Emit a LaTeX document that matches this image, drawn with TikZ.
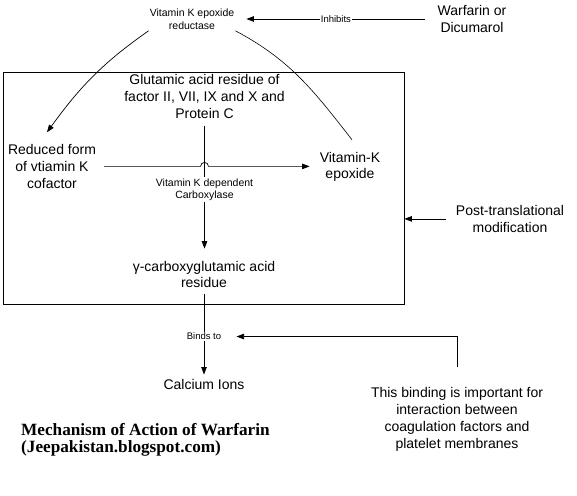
\documentclass[tikz,border=0pt]{standalone}
\usepackage{fontspec}
\setmainfont{Liberation Sans}
\newfontfamily\capfont{Liberation Serif}
\usetikzlibrary{arrows.meta,calc}

\begin{document}
\begin{tikzpicture}[x=10pt, y=10pt,
    big/.style={font=\fontsize{14}{16.8}\selectfont, align=center, inner sep=1pt},
    small/.style={font=\fontsize{10.5}{12.5}\selectfont, align=center, inner sep=1pt},
    tag/.style={font=\fontsize{9.5}{11}\selectfont, fill=white, inner sep=1pt},
    lnk/.style={line width=0.7pt, -{Triangle[length=7.5pt,width=5.5pt]}},
    wire/.style={line width=0.6pt}]
    \useasboundingbox (0,0) rectangle (57.7,49.5);
    % Enzyme and inhibitor
    \node[small] (ver) at (19.2,47.55) {Vitamin K epoxide\\reductase};
    \node[big] (war) at (47.2,47.6) {Warfarin or\\Dicumarol};
    \draw[lnk, shorten <=11pt, shorten >=11pt] (war.west) -- (war.west -| ver.east)
        node[tag, midway] (inh) {Inhibits};
    % Box of the carboxylation
    \node[draw, line width=0.7pt, minimum width=401pt, minimum height=232pt, inner sep=0pt] (box) at (20.35,30.7) {};
    \node[big] (glu) at (20.45,39.86) {Glutamic acid residue of\\factor II, VII, IX and X and\\Protein C};
    \node[big] (red) at (5.2,32.86) {Reduced form\\of vtiamin K\\cofactor};
    \node[big] (vke) at (35.0,32.81) {Vitamin-K\\epoxide};
    \node[big] (gam) at (20.4,22.06) {γ-carboxyglutamic acid\\residue};
    % Cycle
    \draw[lnk] (ver.south west) to[out=215, in=54] ([shift={(-5pt,11pt)}]red.north);
    \draw[wire] ([shift={(2pt,11pt)}]vke.north) to[out=128, in=-28] (ver.south east);
    \draw[lnk, shorten <=7pt, shorten >=9pt] (red.east)
        -- ($(red.east -| glu.south)+(-4pt,0)$) arc[start angle=180, end angle=0, radius=4pt]
        -- (red.east -| vke.west);
    \draw[lnk, shorten <=6pt, shorten >=11pt] (glu.south) -- (glu.south |- gam.north)
        node[small, fill=white, midway] (car) {Vitamin K dependent\\Carboxylase};
    % Outside the box
    \node[big] (ptm) at (51.0,27.61) {Post-translational\\modification};
    \draw[lnk, shorten <=9pt] (ptm.west) -- (ptm.west -| box.east);
    \node[big] (cal) at (20.4,11.01) {Calcium Ions};
    \draw[lnk, shorten <=5pt, shorten >=4pt] (gam.south) -- (gam.south |- cal.north)
        node[tag, pos=0.53] (bnd) {Binds to};
    \node[big] (bin) at (45.7,7.56) {This binding is important for\\interaction between\\coagulation factors and\\platelet membranes};
    \draw[lnk, shorten <=19pt, shorten >=14pt] (bin.north) |- (bnd.east);
    % Caption
    \node[anchor=west, align=left, inner sep=0pt, font=\capfont\bfseries\fontsize{17.2}{16.5}\selectfont] (ttl) at (2.1,5.5)
        {Mechanism of Action of Warfarin\\(Jeepakistan.blogspot.com)};
\end{tikzpicture}
\end{document}
